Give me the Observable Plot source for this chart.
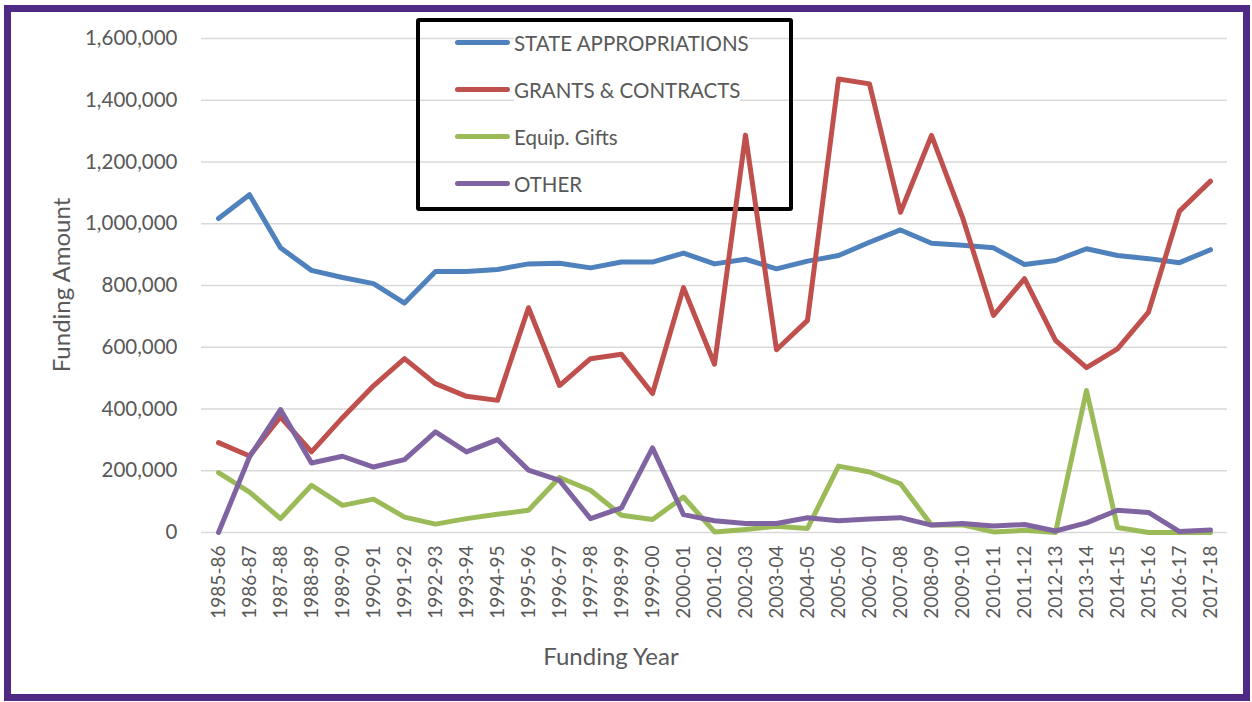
<!DOCTYPE html>
<html>
<head>
<meta charset="utf-8">
<script src="https://cdn.jsdelivr.net/npm/d3@7"></script>
<script src="https://cdn.jsdelivr.net/npm/@observablehq/plot@0.6"></script>
<style>
  html, body { margin: 0; padding: 0; background: #ffffff; }
  #wrap { position: relative; width: 1252px; height: 702px; overflow: hidden; font-family: Lato, "Open Sans", sans-serif; color: #595959; }
  #frame { position: absolute; left: 4px; top: 5px; width: 1246px; height: 696px; box-sizing: border-box; border: 7px solid #4f2a84; pointer-events: none; }
  .layer { position: absolute; left: 0; top: 0; }
  .axis-title { position: absolute; font-size: 24px; color: #595959; white-space: nowrap; }
  #ytitle { left: 60px; top: 285px; transform: translate(-50%, -50%) rotate(-90deg); }
  #xtitle { left: 611px; top: 655px; transform: translate(-50%, -50%); }
  #legend { position: absolute; left: 416px; top: 18px; width: 377px; height: 193px; box-sizing: border-box; border: 4px solid #000; border-radius: 3px; background: transparent; }
  .lg-row { position: absolute; left: 0; height: 24px; }
  .lg-sw { position: absolute; left: 35px; width: 55px; height: 5px; border-radius: 3px; }
  .lg-tx { position: absolute; left: 94px; font-size: 20.5px; color: #595959; white-space: nowrap; line-height: 24px; top: 0; background: #fff; }
</style>
</head>
<body>
<div id="wrap">
  <div class="layer" id="base"></div>
  <div id="legend"></div>
  <div class="layer" id="lines"></div>
  <div class="axis-title" id="ytitle">Funding Amount</div>
  <div class="axis-title" id="xtitle">Funding Year</div>
  <div id="frame"></div>
</div>
<script>
const years = ["1985-86","1986-87","1987-88","1988-89","1989-90","1990-91","1991-92","1992-93","1993-94","1994-95","1995-96","1996-97","1997-98","1998-99","1999-00","2000-01","2001-02","2002-03","2003-04","2004-05","2005-06","2006-07","2007-08","2008-09","2009-10","2010-11","2011-12","2012-13","2013-14","2014-15","2015-16","2016-17","2017-18"];

const stateAppropriations = [1017000,1094000,922000,849000,826000,806000,743000,845000,845000,852000,870000,872000,857000,876000,876000,905000,870000,885000,854000,879000,897000,940000,980000,937000,930000,922000,868000,881000,919000,897000,887000,874000,916000];

const grantsContracts = [291000,248000,374000,261000,372000,475000,563000,482000,441000,428000,728000,476000,563000,577000,450000,793000,545000,1287000,592000,687000,1469000,1453000,1037000,1286000,1021000,703000,822000,622000,534000,595000,714000,1041000,1138000];

const equipGifts = [194000,131000,45000,153000,88000,108000,50000,27000,45000,59000,72000,178000,137000,56000,42000,115000,2000,10000,20000,13000,215000,196000,158000,24000,25000,2000,7000,0,460000,16000,0,0,0];

const other = [0,245000,398000,225000,247000,212000,236000,326000,261000,301000,202000,169000,45000,80000,274000,58000,38000,29000,29000,48000,38000,44000,48000,24000,29000,21000,26000,5000,31000,72000,65000,3000,8000];

const seriesNames = ["STATE APPROPRIATIONS","GRANTS & CONTRACTS","Equip. Gifts","OTHER"];
const seriesColors = ["#4f81bd","#c0504d","#9bbb59","#8064a2"];
const yTicks = [0,200000,400000,600000,800000,1000000,1200000,1400000,1600000];

const seriesValues = [stateAppropriations, grantsContracts, equipGifts, other];
const data = seriesNames.flatMap((name, s) =>
  years.map((yr, i) => ({ year: yr, value: seriesValues[s][i], series: name }))
);

const common = {
  width: 1252,
  height: 702,
  marginLeft: 201,
  marginRight: 25,
  marginTop: 38,
  marginBottom: 170,
  style: { fontFamily: "Lato, 'Open Sans', sans-serif", fontSize: "20px", color: "#595959", background: "transparent", overflow: "visible" },
  x: { type: "point", domain: years, padding: 0.5, label: null },
  y: { domain: [0, 1600000], label: null },
  color: { domain: seriesNames, range: seriesColors }
};

const base = Plot.plot({
  ...common,
  marks: [
    Plot.ruleY(yTicks, { stroke: "#d9d9d9", strokeWidth: 1.5 }),
    Plot.axisY({ ticks: yTicks, tickSize: 0, tickPadding: 24, tickFormat: d3.format(","), label: null, fontSize: 20.5 }),
    Plot.axisX({ tickSize: 0, tickPadding: 13, tickRotate: -90, label: null, fontSize: 19 })
  ]
});
document.getElementById("base").appendChild(base);

const lines = Plot.plot({
  ...common,
  x: { ...common.x, axis: null },
  y: { ...common.y, axis: null },
  marks: [
    Plot.line(data, { x: "year", y: "value", z: "series", stroke: "series", strokeWidth: 5, strokeLinejoin: "round", strokeLinecap: "round" })
  ]
});
document.getElementById("lines").appendChild(lines);

const legend = document.getElementById("legend");
const rowTops = [9, 56, 103, 150];
seriesNames.forEach((name, i) => {
  const row = document.createElement("div");
  row.className = "lg-row";
  row.style.top = rowTops[i] + "px";
  row.style.width = "100%";
  const sw = document.createElement("div");
  sw.className = "lg-sw";
  sw.style.background = seriesColors[i];
  sw.style.top = "9px";
  const tx = document.createElement("div");
  tx.className = "lg-tx";
  tx.textContent = name;
  row.appendChild(sw);
  row.appendChild(tx);
  legend.appendChild(row);
});
</script>
</body>
</html>
